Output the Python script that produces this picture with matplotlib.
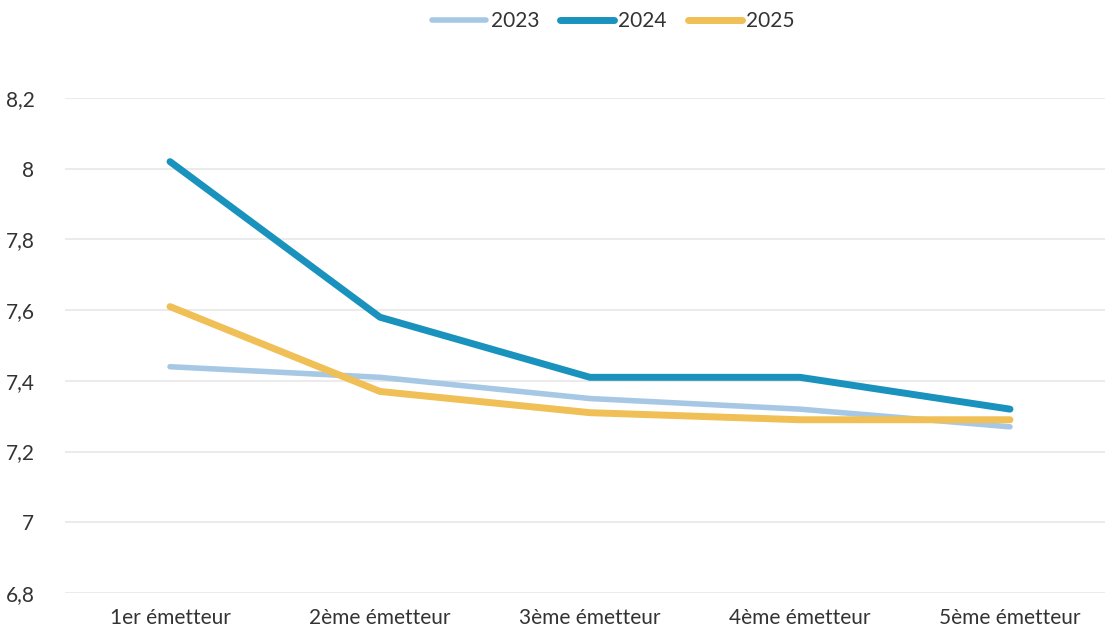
import matplotlib
matplotlib.use("Agg")
import matplotlib.pyplot as plt
from matplotlib.ticker import FuncFormatter

categories = ["1er émetteur", "2ème émetteur", "3ème émetteur", "4ème émetteur", "5ème émetteur"]
series_2023 = [7.44, 7.41, 7.35, 7.32, 7.27]
series_2024 = [8.02, 7.58, 7.41, 7.41, 7.32]
series_2025 = [7.61, 7.37, 7.31, 7.29, 7.29]
y_ticks = [6.8, 7.0, 7.2, 7.4, 7.6, 7.8, 8.0, 8.2]

plt.rcParams['font.family'] = ['Lato', 'DejaVu Sans']

fig = plt.figure(figsize=(11.05, 6.31), dpi=100)
ax = fig.add_axes([65/1105, 1 - 593/631, 1050/1105, (593 - 98)/631])

x = list(range(len(categories)))
ax.plot(x, series_2023, color="#A7C8E5", lw=4, label="2023", solid_capstyle="round", zorder=3)
ax.plot(x, series_2024, color="#1A92BE", lw=5, label="2024", solid_capstyle="round", zorder=4)
ax.plot(x, series_2025, color="#F0BF55", lw=5, label="2025", solid_capstyle="round", zorder=3)

ax.set_xlim(-0.5, len(categories) - 0.5)
ax.set_ylim(6.8, 8.2)
ax.set_yticks(y_ticks)

def fmt(v, pos):
    s = f"{v:.1f}"
    if s.endswith(".0"):
        s = s[:-2]
    return s.replace(".", ",")

ax.yaxis.set_major_formatter(FuncFormatter(fmt))
ax.set_xticks(x)
ax.set_xticklabels(categories)
ax.tick_params(axis="both", length=0, labelsize=15, colors="#333333")
ax.tick_params(axis="y", pad=22)
ax.tick_params(axis="x", pad=11)
ax.grid(axis="y", color="#EBEBEB", lw=1.5)
ax.set_axisbelow(True)
for s in ax.spines.values():
    s.set_visible(False)

fig.legend(loc="upper center", bbox_to_anchor=(0.555, 1.012), ncol=3, frameon=False,
           fontsize=15, handlelength=2.6, handletextpad=0.2, columnspacing=1.0,
           labelcolor="#333333")

fig.savefig("out.png", dpi=100)
